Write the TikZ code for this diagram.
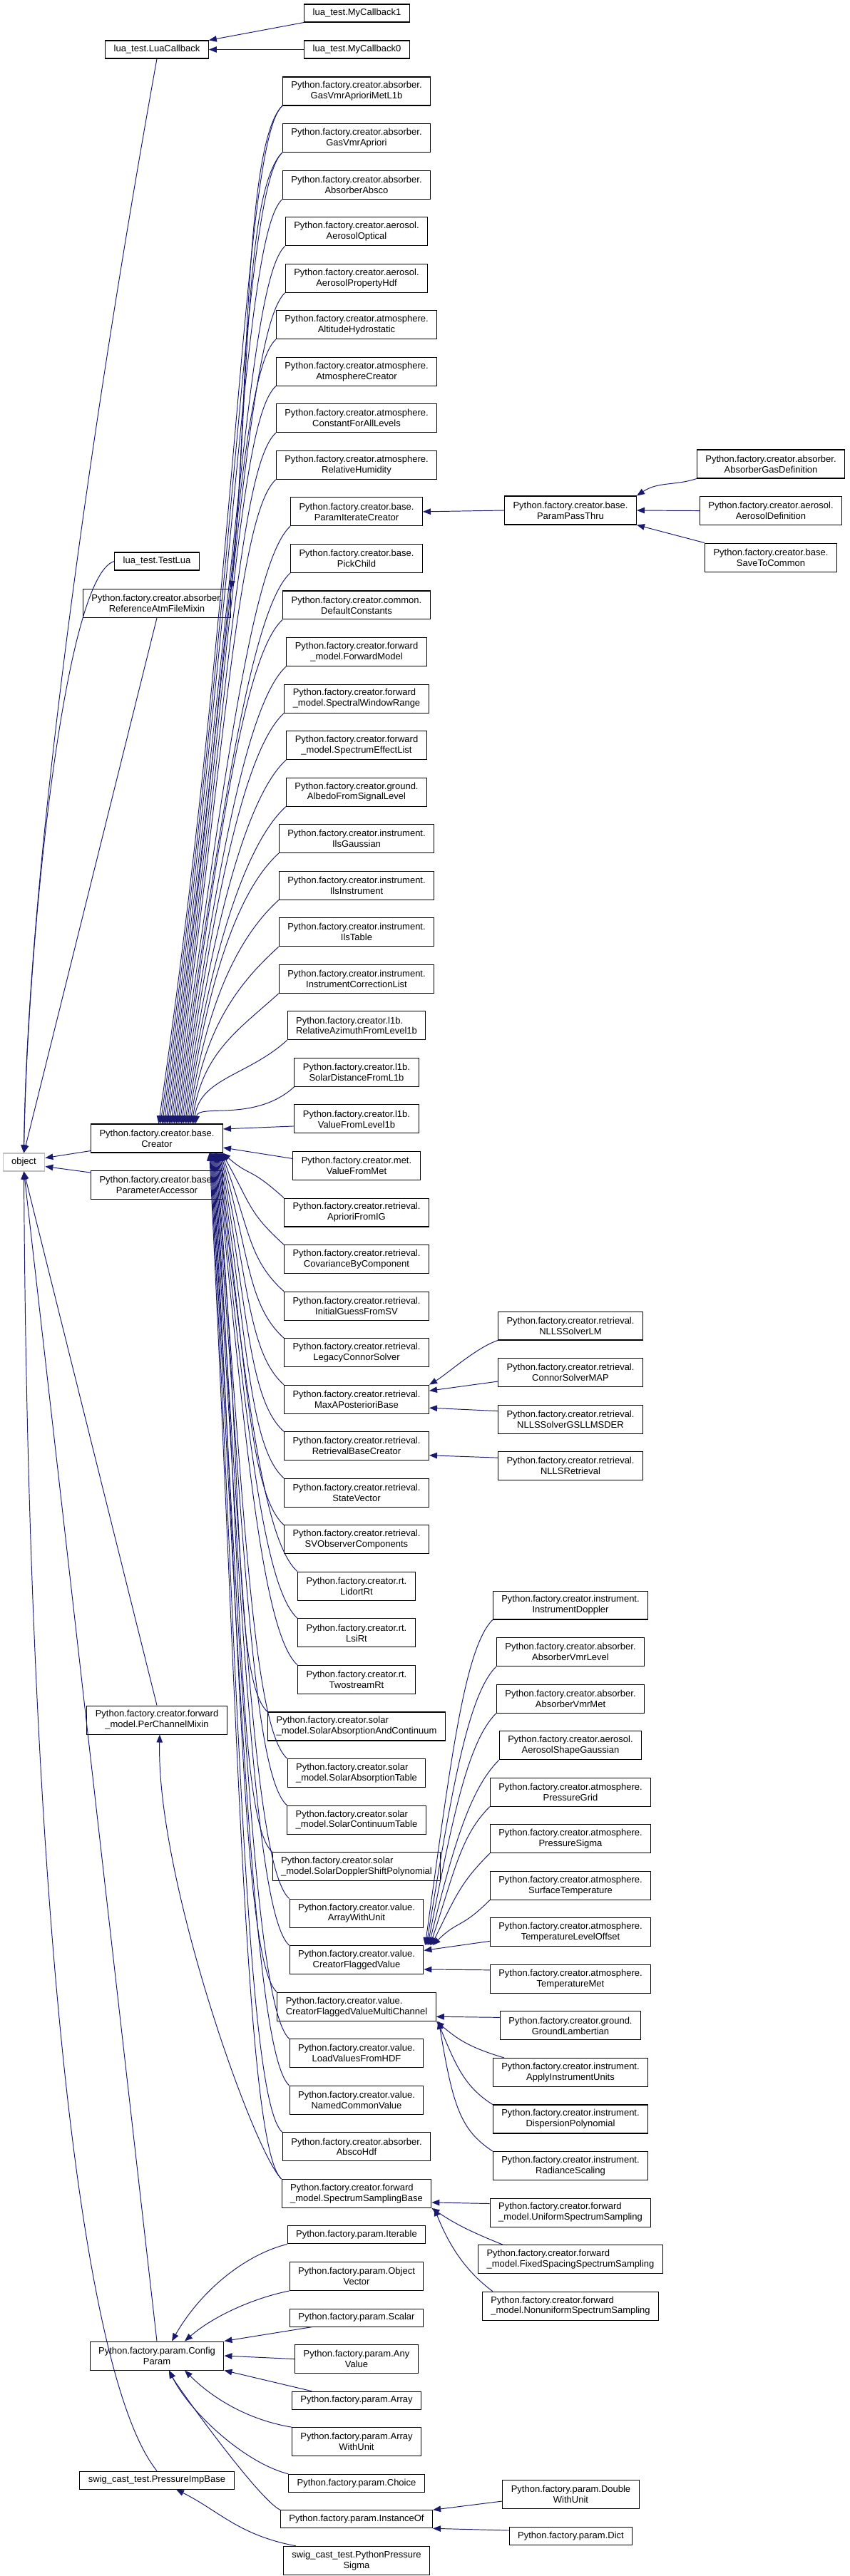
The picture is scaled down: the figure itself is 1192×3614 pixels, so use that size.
\documentclass[tikz,border=0pt]{standalone}
\usepackage{fontspec}
\setmainfont{Liberation Sans}
\usepackage{xcolor}
\usepackage{tikz}
\usetikzlibrary{arrows.meta,positioning,calc}
\definecolor{edgeblue}{HTML}{191970}
\definecolor{objgray}{HTML}{BFBFBF}

\begin{document}
\begin{tikzpicture}[
  x=0.02cm, y=0.02cm,
  font=\fontsize{7.4}{8.5}\selectfont,
  cls/.style={draw, fill=white, line width=0.6pt, align=center, inner xsep=0.24cm, inner ysep=0pt, minimum height=0.8cm},
  clsl/.style={cls, align=left},
  cls1/.style={cls, minimum height=0.5cm},
  arr/.style={-{Triangle[length=0.22cm,width=0.17cm]}, draw=edgeblue, line width=0.55pt},
  node distance=0.49cm
]
\useasboundingbox (0,0) rectangle (1192,-3614);

\node[cls1, draw=objgray] (object) at (33.5,-1630.5) {object};

\node[cls1] (lua) at (220,-69.5) {lua\_test.LuaCallback};
\node[cls1] (testlua) at (220,-787.5) {lua\_test.TestLua};
\node[cls] (rafm) at (220,-846.5) {Python.factory.creator.absorber.\\ReferenceAtmFileMixin};
\node[cls] (creator) at (220,-1597) {Python.factory.creator.base.\\Creator};
\node[cls, below=of creator] (pacc) {Python.factory.creator.base.\\ParameterAccessor};
\node[cls] (pcm) at (220,-2413) {Python.factory.creator.forward\\\_model.PerChannelMixin};
\node[cls] (cp) at (220,-3305) {Python.factory.param.Config\\Param};
\node[cls1] (pib) at (220,-3479.5) {swig\_cast\_test.PressureImpBase};

\node[cls1] (mc1) at (500.5,-18.5) {lua\_test.MyCallback1};
\node[cls1] (mc0) at (500.5,-69.5) {lua\_test.MyCallback0};

\node[cls] (gasmet) at (500,-128) {Python.factory.creator.absorber.\\GasVmrAprioriMetL1b};
\node[cls, below=of gasmet] (gas) {Python.factory.creator.absorber.\\GasVmrApriori};
\node[cls, below=of gas] (absco) {Python.factory.creator.absorber.\\AbsorberAbsco};
\node[cls, below=of absco] (aeroopt) {Python.factory.creator.aerosol.\\AerosolOptical};
\node[cls, below=of aeroopt] (aerohdf) {Python.factory.creator.aerosol.\\AerosolPropertyHdf};
\node[cls, below=of aerohdf] (althydro) {Python.factory.creator.atmosphere.\\AltitudeHydrostatic};
\node[cls, below=of althydro] (atmcreator) {Python.factory.creator.atmosphere.\\AtmosphereCreator};
\node[cls, below=of atmcreator] (constall) {Python.factory.creator.atmosphere.\\ConstantForAllLevels};
\node[cls, below=of constall] (relhum) {Python.factory.creator.atmosphere.\\RelativeHumidity};
\node[cls, below=of relhum] (paramiter) {Python.factory.creator.base.\\ParamIterateCreator};
\node[cls, below=of paramiter] (pickchild) {Python.factory.creator.base.\\PickChild};
\node[cls, below=of pickchild] (defconst) {Python.factory.creator.common.\\DefaultConstants};
\node[cls, below=of defconst] (fwdmodel) {Python.factory.creator.forward\\\_model.ForwardModel};
\node[clsl, below=of fwdmodel] (specwin) {Python.factory.creator.forward\\\_model.SpectralWindowRange};
\node[cls, below=of specwin] (speceff) {Python.factory.creator.forward\\\_model.SpectrumEffectList};
\node[cls, below=of speceff] (albedo) {Python.factory.creator.ground.\\AlbedoFromSignalLevel};
\node[cls, below=of albedo] (ilsgauss) {Python.factory.creator.instrument.\\IlsGaussian};
\node[cls, below=of ilsgauss] (ilsinst) {Python.factory.creator.instrument.\\IlsInstrument};
\node[cls, below=of ilsinst] (ilstable) {Python.factory.creator.instrument.\\IlsTable};
\node[cls, below=of ilstable] (instcorr) {Python.factory.creator.instrument.\\InstrumentCorrectionList};
\node[clsl, below=of instcorr] (relaz) {Python.factory.creator.l1b.\\RelativeAzimuthFromLevel1b};
\node[cls, below=of relaz] (solardist) {Python.factory.creator.l1b.\\SolarDistanceFromL1b};
\node[cls, below=of solardist] (valuel1b) {Python.factory.creator.l1b.\\ValueFromLevel1b};
\node[cls, below=of valuel1b] (valuemet) {Python.factory.creator.met.\\ValueFromMet};
\node[cls, below=of valuemet] (apriori) {Python.factory.creator.retrieval.\\AprioriFromIG};
\node[cls, below=of apriori] (covar) {Python.factory.creator.retrieval.\\CovarianceByComponent};
\node[cls, below=of covar] (initguess) {Python.factory.creator.retrieval.\\InitialGuessFromSV};
\node[cls, below=of initguess] (legacy) {Python.factory.creator.retrieval.\\LegacyConnorSolver};
\node[cls, below=of legacy] (mapb) {Python.factory.creator.retrieval.\\MaxAPosterioriBase};
\node[cls, below=of mapb] (retrbase) {Python.factory.creator.retrieval.\\RetrievalBaseCreator};
\node[cls, below=of retrbase] (statevec) {Python.factory.creator.retrieval.\\StateVector};
\node[cls, below=of statevec] (svobs) {Python.factory.creator.retrieval.\\SVObserverComponents};
\node[cls, below=of svobs] (lidort) {Python.factory.creator.rt.\\LidortRt};
\node[cls, below=of lidort] (lsi) {Python.factory.creator.rt.\\LsiRt};
\node[cls, below=of lsi] (twostream) {Python.factory.creator.rt.\\TwostreamRt};
\node[clsl, below=of twostream] (solarabscont) {Python.factory.creator.solar\\\_model.SolarAbsorptionAndContinuum};
\node[clsl, below=of solarabscont] (solarabstab) {Python.factory.creator.solar\\\_model.SolarAbsorptionTable};
\node[clsl, below=of solarabstab] (solarconttab) {Python.factory.creator.solar\\\_model.SolarContinuumTable};
\node[clsl, below=of solarconttab] (solardoppler) {Python.factory.creator.solar\\\_model.SolarDopplerShiftPolynomial};
\node[cls, below=of solardoppler] (arraywu) {Python.factory.creator.value.\\ArrayWithUnit};
\node[cls, below=of arraywu] (cfv) {Python.factory.creator.value.\\CreatorFlaggedValue};
\node[clsl, below=of cfv] (cfvmc) {Python.factory.creator.value.\\CreatorFlaggedValueMultiChannel};
\node[cls, below=of cfvmc] (loadhdf) {Python.factory.creator.value.\\LoadValuesFromHDF};
\node[cls, below=of loadhdf] (namedcv) {Python.factory.creator.value.\\NamedCommonValue};
\node[cls, below=of namedcv] (abscohdf) {Python.factory.creator.absorber.\\AbscoHdf};
\node[clsl, below=of abscohdf] (sampbase) {Python.factory.creator.forward\\\_model.SpectrumSamplingBase};
\node[cls1, below=of sampbase] (iterable) {Python.factory.param.Iterable};
\node[cls, below=of iterable] (objvec) {Python.factory.param.Object\\Vector};
\node[cls1, below=of objvec] (scalar) {Python.factory.param.Scalar};
\node[cls, below=of scalar] (anyval) {Python.factory.param.Any\\Value};
\node[cls1, below=of anyval] (array) {Python.factory.param.Array};
\node[cls, below=of array] (paramawu) {Python.factory.param.Array\\WithUnit};
\node[cls1, below=of paramawu] (choice) {Python.factory.param.Choice};
\node[cls1, below=of choice] (instof) {Python.factory.param.InstanceOf};
\node[cls, below=of instof] (pps) {swig\_cast\_test.PythonPressure\\Sigma};

\node[cls] (ppt) at (800,-716) {Python.factory.creator.base.\\ParamPassThru};
\node[cls] (nllslm) at (800,-1860) {Python.factory.creator.retrieval.\\NLLSSolverLM};
\node[cls, below=of nllslm] (csm) {Python.factory.creator.retrieval.\\ConnorSolverMAP};
\node[cls, below=of csm] (gsl) {Python.factory.creator.retrieval.\\NLLSSolverGSLLMSDER};
\node[cls, below=of gsl] (nllsret) {Python.factory.creator.retrieval.\\NLLSRetrieval};

\node[cls] (instdop) at (800,-2252) {Python.factory.creator.instrument.\\InstrumentDoppler};
\node[cls, below=of instdop] (absvmrlev) {Python.factory.creator.absorber.\\AbsorberVmrLevel};
\node[cls, below=of absvmrlev] (absvmrmet) {Python.factory.creator.absorber.\\AbsorberVmrMet};
\node[cls, below=of absvmrmet] (aerogauss) {Python.factory.creator.aerosol.\\AerosolShapeGaussian};
\node[cls, below=of aerogauss] (pgrid) {Python.factory.creator.atmosphere.\\PressureGrid};
\node[cls, below=of pgrid] (psigma) {Python.factory.creator.atmosphere.\\PressureSigma};
\node[cls, below=of psigma] (surftemp) {Python.factory.creator.atmosphere.\\SurfaceTemperature};
\node[cls, below=of surftemp] (tlo) {Python.factory.creator.atmosphere.\\TemperatureLevelOffset};
\node[cls, below=of tlo] (tmet) {Python.factory.creator.atmosphere.\\TemperatureMet};
\node[cls, below=of tmet] (gl) {Python.factory.creator.ground.\\GroundLambertian};
\node[cls, below=of gl] (aiu) {Python.factory.creator.instrument.\\ApplyInstrumentUnits};
\node[cls, below=of aiu] (dp) {Python.factory.creator.instrument.\\DispersionPolynomial};
\node[cls, below=of dp] (rs) {Python.factory.creator.instrument.\\RadianceScaling};
\node[clsl, below=of rs] (uss) {Python.factory.creator.forward\\\_model.UniformSpectrumSampling};
\node[clsl, below=of uss] (fss) {Python.factory.creator.forward\\\_model.FixedSpacingSpectrumSampling};
\node[clsl, below=of fss] (nss) {Python.factory.creator.forward\\\_model.NonuniformSpectrumSampling};
\node[cls] (dwu) at (800.5,-3499.5) {Python.factory.param.Double\\WithUnit};
\node[cls1] (pdict) at (800.5,-3558) {Python.factory.param.Dict};

\node[cls] (agd) at (1081,-651) {Python.factory.creator.absorber.\\AbsorberGasDefinition};
\node[cls, below=of agd] (aerodef) {Python.factory.creator.aerosol.\\AerosolDefinition};
\node[cls, below=of aerodef] (stc) {Python.factory.creator.base.\\SaveToCommon};

\draw[arr] (lua.south) .. controls +(-90,-500) and +(5,400) .. (object.north);
\draw[arr] (testlua.west) .. controls +(-70,-20) and +(5,300) .. (object.north);
\draw[arr] (rafm.south) -- (object.north);
\draw[arr] ([yshift=0.06cm]creator.south west) -- ([yshift=0.12cm]object.east);
\draw[arr] ([yshift=-0.06cm]pacc.north west) -- ([yshift=-0.12cm]object.east);
\draw[arr] (pcm.north) -- (object.south);
\draw[arr] (cp.north) -- (object.south);
\draw[arr] (pib.north) .. controls +(-120,150) and +(5,-900) .. (object.south);

\draw[arr] (mc1.south west) -- (lua.north east);
\draw[arr] (mc0.west) -- (lua.east);

\foreach \nm in {gasmet,gas}
  \draw[arr] (\nm.south west) .. controls +(-55,-55) and +(25,250) .. (rafm.north east);

\foreach \nm [count=\i] in {gasmet,gas,absco,aeroopt,aerohdf,althydro,atmcreator,constall,relhum,paramiter,pickchild,defconst,fwdmodel,specwin,speceff,albedo,ilsgauss,ilsinst,ilstable,instcorr,relaz,solardist}
  \draw[arr] let \p1=(\nm.south west), \p2=(creator.north) in
    (\p1) .. controls +(-55,-50) and +({0.08*(\y1-\y2)},{0.55*(\y1-\y2)}) .. ([xshift=\i*1.4pt]creator.north);
\draw[arr] ([yshift=-0.2cm]valuel1b.west) -- (creator.8);
\draw[arr] ([yshift=0.2cm]valuemet.west) -- (creator.-8);
\foreach \nm [count=\i] in {apriori,covar,initguess,legacy,mapb,retrbase,statevec,svobs,lidort,lsi,twostream,solarabscont,solarabstab,solarconttab,solardoppler,arraywu,cfv,cfvmc,loadhdf,namedcv,abscohdf,sampbase}
  \draw[arr] let \p1=(\nm.north west), \p2=(creator.south east) in
    (\p1) .. controls +(-50,45) and +(40,{-0.55*(\y2-\y1)}) .. ([xshift=-\i*0.5pt]creator.south east);
\draw[arr] (sampbase.north west) .. controls +(-40,40) and +(-5,-200) .. ([xshift=0.08cm]pcm.south);

\draw[arr] (ppt.west) -- (paramiter.east);
\draw[arr] (agd.south west) .. controls +(-30,-10) and +(30,20) .. (ppt.north east);
\draw[arr] (aerodef.west) -- (ppt.east);
\draw[arr] (stc.north west) -- (ppt.south east);

\draw[arr] (nllslm.south west) .. controls +(-30,-10) and +(25,15) .. (mapb.north east);
\draw[arr] ([yshift=-0.25cm]csm.west) -- ([yshift=0.24cm]mapb.east);
\draw[arr] ([yshift=0.23cm]gsl.west) -- ([yshift=-0.24cm]mapb.east);
\draw[arr] ([yshift=0.23cm]nllsret.west) -- ([yshift=-0.26cm]retrbase.east);

\foreach \nm [count=\i] in {instdop,absvmrlev,absvmrmet,aerogauss,pgrid,psigma,surftemp}
  \draw[arr] let \p1=(\nm.south west), \p2=(cfv.north east) in
    (\p1) .. controls +(-40,-40) and +(35,{0.55*(\y1-\y2)}) .. ([xshift=\i*1pt]cfv.north east);
\draw[arr] ([yshift=0.16cm]tlo.south west) -- (cfv.8);
\draw[arr] ([yshift=-0.16cm]tmet.north west) -- (cfv.-8);

\draw[arr] ([yshift=-0.18cm]gl.north west) -- ([yshift=-0.28cm]cfvmc.east);
\draw[arr] ([xshift=0.32cm]aiu.north west) .. controls +(-50,15) and +(30,-25) .. (cfvmc.south east);
\draw[arr] (dp.north west) .. controls +(-40,25) and +(25,-60) .. ([xshift=1pt]cfvmc.south east);
\draw[arr] (rs.north west) .. controls +(-45,30) and +(20,-120) .. ([xshift=2pt]cfvmc.south east);

\draw[arr] ([yshift=-0.16cm]uss.north west) -- ([yshift=-0.25cm]sampbase.east);
\draw[arr] ([xshift=0.7cm]fss.north west) .. controls +(-50,20) and +(30,-20) .. (sampbase.south east);
\draw[arr] ([xshift=0.3cm]nss.north west) .. controls +(-40,30) and +(20,-50) .. ([xshift=2pt]sampbase.south east);

\draw[arr] (iterable.south west) .. controls +(-60,-15) and +(40,70) .. ([xshift=0.42cm]cp.north);
\draw[arr] (objvec.south west) .. controls +(-50,-10) and +(40,35) .. ([xshift=0.78cm]cp.north);
\draw[arr] ([xshift=0.64cm]scalar.south west) -- (cp.north east);
\draw[arr] (anyval.west) -- (cp.east);
\draw[arr] ([xshift=0.56cm]array.north west) -- (cp.south east);
\draw[arr] (paramawu.north west) .. controls +(-60,10) and +(40,-40) .. ([xshift=0.78cm]cp.south);
\draw[arr] (choice.north west) .. controls +(-60,15) and +(30,-60) .. ([xshift=0.34cm]cp.south);
\draw[arr] (instof.north west) .. controls +(-30,14) and +(10,-20) .. ([xshift=0.34cm]cp.south);

\draw[arr] ([xshift=0.36cm]pps.north west) .. controls +(-80,15) and +(60,-30) .. ([xshift=0.54cm]pib.south);

\draw[arr] ([yshift=-0.19cm]dwu.west) -- (instof.north east);
\draw[arr] ([yshift=0.16cm]pdict.west) -- (instof.south east);
\end{tikzpicture}
\end{document}
